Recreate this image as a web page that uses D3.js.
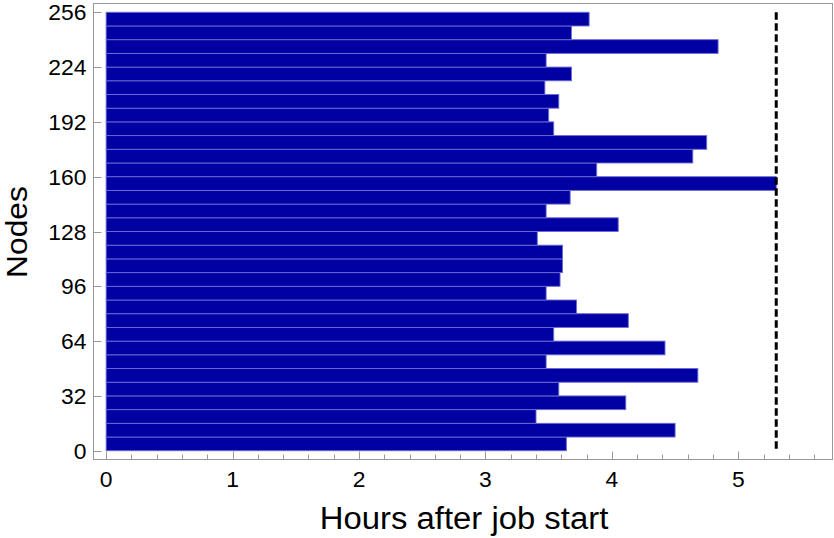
<!DOCTYPE html>
<html><head><meta charset="utf-8">
<script src="https://cdn.jsdelivr.net/npm/d3@7"></script>
<style>body{margin:0;background:#fff}svg{display:block}text{font-family:"Liberation Sans",Arial,Helvetica,sans-serif;fill:#000}</style>
</head><body>
<svg id="c" width="834" height="538"></svg>
<script>
// Hours each group of 8 nodes finished (bottom group 0-8 first)
const nodeGroups = d3.range(0, 256, 8);
const hours = [3.64, 4.50, 3.40, 4.11, 3.58, 4.68, 3.48, 4.42, 3.54, 4.13, 3.72, 3.48, 3.59, 3.61, 3.61, 3.41,
               4.05, 3.48, 3.67, 5.30, 3.88, 4.64, 4.75, 3.54, 3.50, 3.58, 3.47, 3.68, 3.48, 4.84, 3.68, 3.82];
const groupSize = 8;
const cutoff = 5.30;
const xTicks = [0, 1, 2, 3, 4, 5];
const xMinor = d3.range(0, 5.8, 0.2);
const yTicks = [0, 32, 64, 96, 128, 160, 192, 224, 256];
const xTitle = "Hours after job start";
const yTitle = "Nodes";

const svg = d3.select("#c");
const L = 93.5, R = 832.5, T = 3.5, B = 459.5;
const x = d3.scaleLinear().domain([-0.1, 5.745]).range([L, R]);
const y = d3.scaleLinear().domain([-5.12, 261.12]).range([B, T]);

// bars
svg.append("g").selectAll("rect").data(hours).join("rect")
  .attr("x", x(0))
  .attr("y", (d, i) => y(nodeGroups[i] + groupSize))
  .attr("width", d => x(d) - x(0))
  .attr("height", (d, i) => y(nodeGroups[i]) - y(nodeGroups[i] + groupSize))
  .attr("fill", "#0000a3")
  .attr("stroke", "#6b6bd6")
  .attr("stroke-width", 0.9);

// dashed cutoff line
svg.append("line")
  .attr("x1", x(cutoff)).attr("x2", x(cutoff))
  .attr("y1", y(256)).attr("y2", y(0))
  .attr("stroke", "#000").attr("stroke-width", 3)
  .attr("stroke-dasharray", "7.5,3.5");

// frame
svg.append("rect").attr("x", L).attr("y", T).attr("width", R - L).attr("height", B - T)
  .attr("fill", "none").attr("stroke", "#999").attr("stroke-width", 1);

// x ticks
const gx = svg.append("g");
gx.selectAll("line.mn").data(xMinor).join("line").attr("class", "mn")
  .attr("x1", d => Math.round(x(d)) + 0.5).attr("x2", d => Math.round(x(d)) + 0.5)
  .attr("y1", B).attr("y2", B - 5).attr("stroke", "#999");
gx.selectAll("line.mj").data(xTicks).join("line").attr("class", "mj")
  .attr("x1", d => Math.round(x(d)) + 0.5).attr("x2", d => Math.round(x(d)) + 0.5)
  .attr("y1", B).attr("y2", B - 8).attr("stroke", "#999");
gx.selectAll("text").data(xTicks).join("text")
  .attr("transform", d => `translate(${x(d)},486.5) scale(1.04,1)`)
  .attr("text-anchor", "middle").attr("font-size", 22).text(d => d);

// y ticks
const gy = svg.append("g");
gy.selectAll("line").data(yTicks).join("line")
  .attr("x1", L).attr("x2", L + 8)
  .attr("y1", d => Math.round(y(d)) + 0.5).attr("y2", d => Math.round(y(d)) + 0.5)
  .attr("stroke", "#999");
gy.selectAll("text").data(yTicks).join("text")
  .attr("transform", d => `translate(86.5,${y(d) + 8}) scale(1.04,1)`)
  .attr("text-anchor", "end").attr("font-size", 22).text(d => d);

// titles
svg.append("text").attr("transform", "translate(464,529) scale(1.06,1)")
  .attr("text-anchor", "middle").attr("font-size", 31).text(xTitle);
svg.append("text").attr("transform", "translate(27,232) rotate(-90) scale(1.06,1)")
  .attr("text-anchor", "middle").attr("font-size", 30).text(yTitle);
</script>
</body></html>
